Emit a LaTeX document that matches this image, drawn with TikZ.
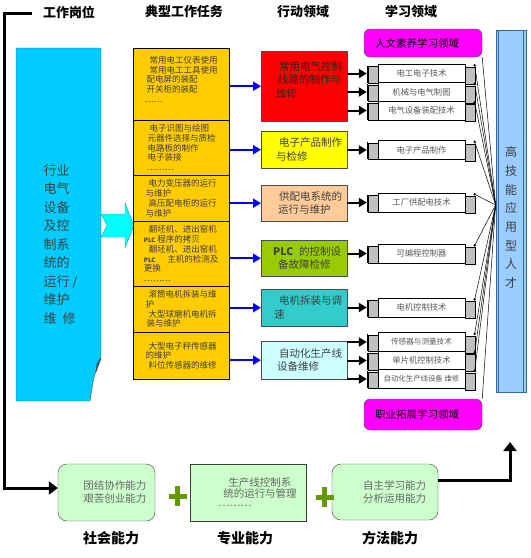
\documentclass[tikz,border=0pt]{standalone}
\usepackage{fontspec}
\setmainfont{Noto Sans CJK SC}
\usetikzlibrary{arrows.meta,calc,positioning}
\definecolor{postCyan}{HTML}{00CCFF}
\definecolor{arrowCyan}{HTML}{00FFFF}
\definecolor{arrowEdge}{HTML}{339999}
\definecolor{taskYellow}{HTML}{FFCC00}
\definecolor{actRed}{HTML}{FF0000}
\definecolor{actYellow}{HTML}{FFFF00}
\definecolor{actPeach}{HTML}{FFCC99}
\definecolor{actGreen}{HTML}{99CC00}
\definecolor{actTeal}{HTML}{33CCCC}
\definecolor{actIce}{HTML}{CCFFFF}
\definecolor{fieldMagenta}{HTML}{FF00FF}
\definecolor{talentBlue}{HTML}{99CCFF}
\definecolor{talentEdge}{HTML}{336699}
\definecolor{abilGreen}{HTML}{CCFFCC}
\definecolor{plusGreen}{HTML}{669900}
\definecolor{capGray}{HTML}{C0C0C0}
\definecolor{textGray}{HTML}{404040}
\tikzset{
  head/.style={font=\fontsize{13}{13}\selectfont\bfseries},
  task/.style={draw=black, fill=taskYellow, minimum width=96pt,
    anchor=north west, align=left, inner sep=0pt,
    font=\fontsize{8.5}{9.7}\selectfont, text=textGray},
  act/.style={draw=black!70, minimum width=86pt, text width=80pt,
    anchor=north west, align=left, inner sep=0pt,
    font=\fontsize{10.5}{13.5}\selectfont, text=textGray},
  scroll/.style={draw=black, fill=white, minimum width=87pt,
    minimum height=19pt, inner sep=0pt,
    font=\fontsize{8.3}{9}\selectfont, text=black!65},
  scroll cap/.style={draw=black, fill=capGray, line width=0.5pt},
  field/.style={draw=black!70, fill=fieldMagenta, rounded corners=6pt,
    minimum width=118pt, text width=96pt, align=left, inner sep=0pt,
    font=\fontsize{10.5}{11}\selectfont},
  talent/.style={draw=talentEdge, fill=talentBlue, line width=0.8pt,
    minimum width=30pt, minimum height=362pt, inner sep=0pt},
  talent text/.style={align=center, font=\fontsize{12}{18.7}\selectfont,
    text=textGray},
  post text/.style={anchor=west, align=left,
    font=\fontsize{13}{18.5}\selectfont, text=textGray},
  ability/.style={draw=black!75, fill=abilGreen, rounded corners=9pt,
    align=left, inner sep=0pt, font=\fontsize{10.5}{13}\selectfont,
    text=black!60},
  ability label/.style={font=\fontsize{14}{14}\selectfont\bfseries},
  blue arrow/.style={-{Triangle[length=8pt,width=9pt]}, line width=2.2pt,
    draw=blue},
  black arrow/.style={-{Triangle[length=8pt,width=9pt]}, line width=2pt},
  fan line/.style={line width=0.5pt},
  big line/.style={line width=3pt, -{Triangle[length=9pt,width=13pt]}},
  plus/.style={draw=plusGreen, line width=5pt}
}
\begin{document}
\begin{tikzpicture}[x=1pt,y=-1pt]
  \useasboundingbox (0,0) rectangle (531,558);
  % column heads
  \node[head] (hpost) at (69,12) {工作岗位};
  \node[head] (htask) at (184,12) {典型工作任务};
  \node[head] (hact) at (303,12) {行动领域};
  \node[head] (hlearn) at (411,12) {学习领域};
  % job post
  \draw[fill=postCyan, draw=black!70] (16,48) -- (101,48) -- (101,358)
    .. controls (98,366) and (95,372) .. (93,382) -- (90,401) -- (16,401) -- cycle;
  \draw[fill=postCyan!60!black, draw=black!70] (101,358)
    .. controls (99,364) .. (96,372) .. controls (97,366) and (95,364) .. (101,358);
  \node[post text] (post) at (40,244.5)
    {行业\\电气\\设备\\及控\\制系\\统的\\运行 /\\维护\\维\hspace{6pt}修};
  \draw[fill=arrowCyan, draw=arrowEdge] (101,214) -- (125,214) -- (125,203)
    -- (134,225.5) -- (125,248) -- (125,237) -- (101,237) -- (107,225.5) -- cycle;
  % typical tasks
  \node[task, minimum height=72pt] (t1) at (133,48)
    {\hspace*{5pt}常用电工仪表使用\\\hspace*{5pt}常用电工工具使用\\\hspace*{2pt}配电屏的装配\\\hspace*{2pt}开关柜的装配\\……\\\mbox{}};
  \node[task, minimum height=55pt] (t2) at (133,120)
    {\hspace*{3pt}电子识图与绘图\\\hspace*{1pt}元器件选择与质检\\\hspace*{1pt}电路板的制作\\\hspace*{1pt}电子装接\\………};
  \node[task, minimum height=46pt] (t3) at (133,175)
    {\hspace*{3pt}电力变压器的运行\\与维护\\\hspace*{3pt}高压配电柜的运行\\与维护};
  \node[task, minimum height=65pt] (t4) at (133,221)
    {\hspace*{5pt}翻坯机、进出窑机\\\textbf{\fontsize{6}{6}\selectfont PLC}\hspace{2pt}程序的拷贝\\\hspace*{5pt}翻坯机、进出窑机\\\textbf{\fontsize{6}{6}\selectfont PLC}\hspace{12pt}主机的检测及\\更换\\………};
  \node[task, minimum height=46pt] (t5) at (133,286)
    {\hspace*{3pt}滚筒电机拆装与维\\护\\\hspace*{3pt}大型球磨机电机拆\\\hspace*{1pt}装与维护};
  \node[task, minimum height=47pt] (t6) at (133,332)
    {\hspace*{3pt}大型电子秤传感器\\的维护\\\hspace*{3pt}料位传感器的维修};
  % action fields
  \node[act, fill=actRed, text=black!85, minimum height=70pt] (act1) at (261,51)
    {\hspace*{15pt}常用电气控制\\\hspace*{14pt}线路的制作与\\\hspace*{12pt}维修\\\mbox{}};
  \node[act, fill=actYellow, minimum height=37pt] (act2) at (261,131)
    {\hspace*{15pt}电子产品制作\\\hspace*{12pt}与检修};
  \node[act, fill=actPeach, minimum height=36pt] (act3) at (261,185)
    {\hspace*{15pt}供配电系统的\\\hspace*{14pt}运行与维护};
  \node[act, fill=actGreen, minimum height=36pt] (act4) at (261,240)
    {\hspace*{9pt}\textbf{PLC}\hspace{6pt}的控制设\\\hspace*{14pt}备故障检修};
  \node[act, fill=actTeal, minimum height=37pt] (act5) at (261,289)
    {\hspace*{15pt}电机拆装与调\\\hspace*{10pt}速};
  \node[act, fill=actIce, minimum height=38pt] (act6) at (261,341)
    {\hspace*{15pt}自动化生产线\\\hspace*{13pt}设备维修};
  \foreach \i in {1,...,6}
    \draw[blue arrow] (act\i.west -| t\i.east) -- (act\i.west);
  % learning fields
  \node[field, minimum height=28pt] (hum) at (423,43) {人文素养学习领域};
  \node[field, minimum height=31pt] (car) at (423,414.5) {职业拓展学习领域};
  \node[scroll] (s1) at (421.5,73.5) {电工电子技术};
  \node[scroll] (s2) at (421.5,92) {机械与电气制图};
  \node[scroll] (s3) at (421.5,110.5) {电气设备装配技术};
  \node[scroll] (s4) at (421.5,150) {电子产品制作};
  \node[scroll] (s5) at (421.5,202.5) {工厂供配电技术};
  \node[scroll] (s6) at (421.5,253.5) {可编程控制器};
  \node[scroll] (s7) at (421.5,307.5) {电机控制技术};
  \node[scroll, font=\fontsize{7.6}{8}\selectfont] (s8) at (421.5,342) {传感器与测量技术};
  \node[scroll] (s9) at (421.5,360.5) {单片机控制技术};
  \node[scroll, font=\fontsize{7.4}{8}\selectfont] (s10) at (421.5,379) {自动化生产线设备 维修};
  % talent
  \node[talent] (talent) at (511,211) {};
  \draw[talentEdge, line width=0.8pt] ([xshift=3pt]talent.north west) -- ([xshift=3pt]talent.south west)
    ([xshift=-3.5pt]talent.north east) -- ([xshift=-3.5pt]talent.south east);
  \node[talent text] (talentlbl) at ([yshift=-6.5pt]talent.center) {高\\技\\能\\应\\用\\型\\人\\才};
  \coordinate (hub) at ([yshift=6pt]talent.west);
  \foreach \i in {1,...,10} {
    \draw[scroll cap] ([xshift=-10pt,yshift=-2.5pt]s\i.north west) rectangle (s\i.south west);
    \draw[line width=0.9pt] ([xshift=-10.5pt,yshift=-2pt]s\i.north west) -- ([xshift=-10.5pt,yshift=0.5pt]s\i.south west);
    \draw[scroll cap] ([yshift=-3.5pt]s\i.north east) rectangle ([xshift=10pt,yshift=-1.5pt]s\i.south east);
    \fill ([xshift=9.5pt,yshift=-1.5pt]s\i.north east) circle (1.3pt);
    \draw[fan line] ([xshift=9.5pt,yshift=-1.5pt]s\i.north east) -- (hub);
  }
  \draw[fan line] (hum.south east) -- (hub);
  \draw[fan line] (car.north east) -- (hub);
  \draw[black arrow] (act1.east |- s1) -- ([xshift=-11pt]s1.west);
  \draw[black arrow] (act1.east |- s2) -- ([xshift=-11pt]s2.west);
  \draw[black arrow] (act1.east |- s3) -- ([xshift=-11pt]s3.west);
  \draw[black arrow] (act2.east |- s4) -- ([xshift=-11pt]s4.west);
  \draw[black arrow] (act3.east |- s5) -- ([xshift=-11pt]s5.west);
  \draw[black arrow] (act4.east |- s6) -- ([xshift=-11pt]s6.west);
  \draw[black arrow] (act5.east |- s7) -- ([xshift=-11pt]s7.west);
  \draw[black arrow] (act6.east |- s8) -- ([xshift=-11pt]s8.west);
  \draw[black arrow] (act6.east |- s9) -- ([xshift=-11pt]s9.west);
  \draw[black arrow] (act6.east |- s10) -- ([xshift=-11pt]s10.west);
  % abilities
  \node[ability, minimum width=97pt, minimum height=57pt] (abilA) at (106.5,492.5)
    {\hspace*{17pt}团结协作能力\\\hspace*{17pt}艰苦创业能力};
  \node[ability, rounded corners=0pt, minimum width=116pt, minimum height=57pt,
    font=\fontsize{10.5}{9.5}\selectfont] (abilB) at (248,492.5)
    {\hspace*{29pt}生产线控制系\\\hspace*{24pt}统的运行与管理\\\hspace*{19pt}………};
  \node[ability, minimum width=106pt, minimum height=56pt] (abilC) at (385,492)
    {\hspace*{19pt}自主学习能力\\\hspace*{19pt}分析运用能力};
  \draw[plus] (168.5,496) -- (186.5,496) (177.5,486) -- (177.5,506);
  \draw[plus] (315.5,497) -- (333.5,497) (324.5,487) -- (324.5,507);
  \node[ability label] (lsoc) at (111,538) {社会能力};
  \node[ability label] (lpro) at (245,538) {专业能力};
  \node[ability label] (lmet) at (390,538) {方法能力};
  \coordinate (ltop) at (32,13);
  \coordinate (outtip) at (510,442);
  \draw[big line] (ltop) -- ++(-28,0) |- ([yshift=4.5pt]abilA.west);
  \draw[big line] ([yshift=12pt]abilC.east) -| (outtip);
\end{tikzpicture}
\end{document}
